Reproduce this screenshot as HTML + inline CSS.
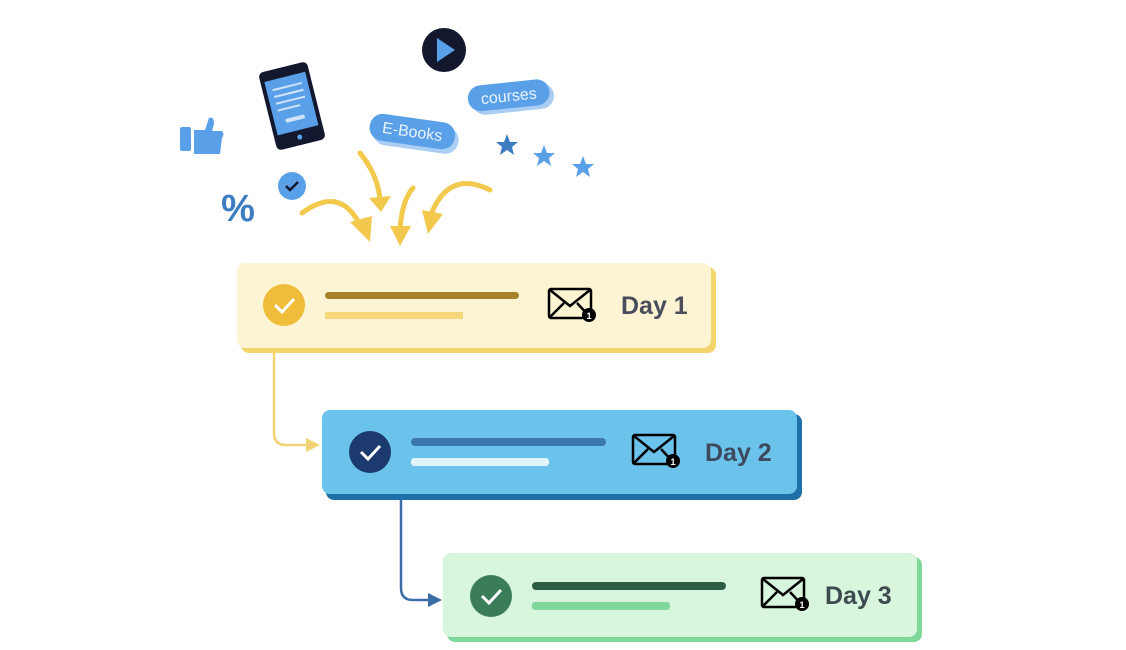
<!DOCTYPE html>
<html><head><style>body{margin:0;background:#fff}svg{display:block}</style></head><body>
<svg width="1126" height="650" viewBox="0 0 1126 650" xmlns="http://www.w3.org/2000/svg" font-family="Liberation Sans, sans-serif">
<g>
<rect x="180" y="127" width="11" height="24" rx="2" fill="#5aa0e8"/>
<path d="M194 130 L205 130 L209 118 Q214 116 214 124 L212 131 L222 131 Q225 134 222 138 L220 154 L194 154 Z" fill="#5aa0e8"/>
<g transform="rotate(-14 292 106)">
<rect x="267" y="66" width="50" height="80" rx="5" fill="#14182e"/>
<rect x="271" y="76" width="42" height="55" fill="#5aa0e8"/>
<g stroke="#cfe3f8" stroke-width="2"><line x1="277" y1="86" x2="307" y2="86"/><line x1="277" y1="93" x2="307" y2="93"/><line x1="277" y1="100" x2="307" y2="100"/><line x1="277" y1="107" x2="300" y2="107"/></g>
<rect x="282" y="117" width="20" height="4" rx="2" fill="#cfe3f8"/>
<circle cx="292" cy="138" r="2.5" fill="#5aa0e8"/>
</g>
<circle cx="444" cy="50" r="22" fill="#14182e"/>
<path d="M437 38 L455 50 L437 62 Z" fill="#5aa0e8"/>
<g transform="rotate(-6 512 98)">
<rect x="472" y="86" width="82" height="26" rx="13" fill="#a9cdf3"/>
<rect x="468" y="82" width="82" height="26" rx="13" fill="#5aa0e8"/>
<text x="509" y="101" font-size="16" fill="#eaf3fd" text-anchor="middle">courses</text>
</g>
<g transform="rotate(8 412 134)">
<rect x="373" y="122" width="86" height="27" rx="13" fill="#a9cdf3"/>
<rect x="369" y="118" width="86" height="27" rx="13" fill="#5aa0e8"/>
<text x="412" y="137" font-size="16" fill="#eaf3fd" text-anchor="middle">E-Books</text>
</g>
<circle cx="292" cy="186" r="14" fill="#5aa0e8"/>
<path d="M286 186 L290 190 L298 182" stroke="#14182e" stroke-width="2.5" fill="none"/>
<text x="238" y="221" font-size="38" font-weight="bold" fill="#3c7dc2" text-anchor="middle">%</text>
<g fill="#3c7dc2"><path d="M507 134 l3 8 8 0 -6 5 2 8 -7 -5 -7 5 2 -8 -6 -5 8 0z"/></g>
<g fill="#5aa0e8"><path d="M544 145 l3 8 8 0 -6 5 2 8 -7 -5 -7 5 2 -8 -6 -5 8 0z"/><path d="M583 156 l3 8 8 0 -6 5 2 8 -7 -5 -7 5 2 -8 -6 -5 8 0z"/></g>
<g fill="none" stroke="#f2c94c" stroke-width="5" stroke-linecap="round">
<path d="M302 213 Q340 185 360 225"/>
<path d="M360 153 Q378 175 380 200"/>
<path d="M413 188 Q402 200 400 230"/>
<path d="M490 190 Q450 170 432 212"/>
</g>
<g fill="#f2c94c">
<path d="M350 222 L370 242 L372 216 Z"/>
<path d="M369 198 L381 212 L391 196 Z"/>
<path d="M390 226 L400 246 L411 226 Z"/>
<path d="M422 210 L428 234 L443 214 Z"/>
</g>
</g>
<path d="M274 352 V433 Q274 445 286 445 H308" fill="none" stroke="#f2d273" stroke-width="2.5"/>
<path d="M306 438 L320 445 L306 452 Z" fill="#f2d273"/>
<path d="M401 499 V588 Q401 600 413 600 H430" fill="none" stroke="#3c6ea8" stroke-width="2.5"/>
<path d="M428 593 L442 600 L428 607 Z" fill="#3c6ea8"/>
<rect x="241" y="267" width="475" height="86" rx="8" fill="#f4d46c"/>
<rect x="237" y="263" width="474" height="85" rx="8" fill="#fcf4d2"/>
<circle cx="284" cy="305" r="21" fill="#f0bd3a"/>
<path d="M275 305 L282 312 L294 299" stroke="#fff" stroke-width="3" fill="none"/>
<rect x="325" y="292" width="194" height="7" rx="3.5" fill="#a8822a"/>
<rect x="325" y="312" width="138" height="7" fill="#f6d87a"/>
<g transform="translate(549,289)"><rect x="0" y="0" width="42" height="29" rx="2" fill="none" stroke="#000" stroke-width="2.5"/><path d="M1 1 L21 17 L41 1 M1 28 L15 14 M41 28 L28 14" fill="none" stroke="#000" stroke-width="2.5"/><circle cx="40" cy="26" r="7" fill="#000"/><text x="40" y="30" font-size="9" font-weight="bold" fill="#fff" text-anchor="middle">1</text></g>
<text x="621" y="314" font-size="25" font-weight="bold" fill="#4a4d5c">Day 1</text>
<rect x="326" y="414" width="476" height="86" rx="8" fill="#1f6fa8"/>
<rect x="322" y="410" width="475" height="84" rx="8" fill="#6bc3ec"/>
<circle cx="370" cy="452" r="21" fill="#1c3a6e"/>
<path d="M361 452 L368 459 L380 446" stroke="#fff" stroke-width="3" fill="none"/>
<rect x="411" y="438" width="195" height="8" rx="4" fill="#3c78b0"/>
<rect x="411" y="458" width="138" height="8" rx="3" fill="#dff5fb"/>
<g transform="translate(633,435)"><rect x="0" y="0" width="42" height="29" rx="2" fill="none" stroke="#000" stroke-width="2.5"/><path d="M1 1 L21 17 L41 1 M1 28 L15 14 M41 28 L28 14" fill="none" stroke="#000" stroke-width="2.5"/><circle cx="40" cy="26" r="7" fill="#000"/><text x="40" y="30" font-size="9" font-weight="bold" fill="#fff" text-anchor="middle">1</text></g>
<text x="705" y="461" font-size="25" font-weight="bold" fill="#3d4a5e">Day 2</text>
<rect x="447" y="557" width="475" height="85" rx="8" fill="#7fd79a"/>
<rect x="443" y="553" width="474" height="84" rx="8" fill="#d8f5dd"/>
<circle cx="491" cy="596" r="21" fill="#3a7d58"/>
<path d="M482 596 L489 603 L501 590" stroke="#fff" stroke-width="3" fill="none"/>
<rect x="532" y="582" width="194" height="8" rx="4" fill="#2c5e45"/>
<rect x="532" y="602" width="138" height="8" rx="3" fill="#7fd79a"/>
<g transform="translate(762,578)"><rect x="0" y="0" width="42" height="29" rx="2" fill="none" stroke="#000" stroke-width="2.5"/><path d="M1 1 L21 17 L41 1 M1 28 L15 14 M41 28 L28 14" fill="none" stroke="#000" stroke-width="2.5"/><circle cx="40" cy="26" r="7" fill="#000"/><text x="40" y="30" font-size="9" font-weight="bold" fill="#fff" text-anchor="middle">1</text></g>
<text x="825" y="604" font-size="25" font-weight="bold" fill="#3d4a4e">Day 3</text>
</svg>
</body></html>
